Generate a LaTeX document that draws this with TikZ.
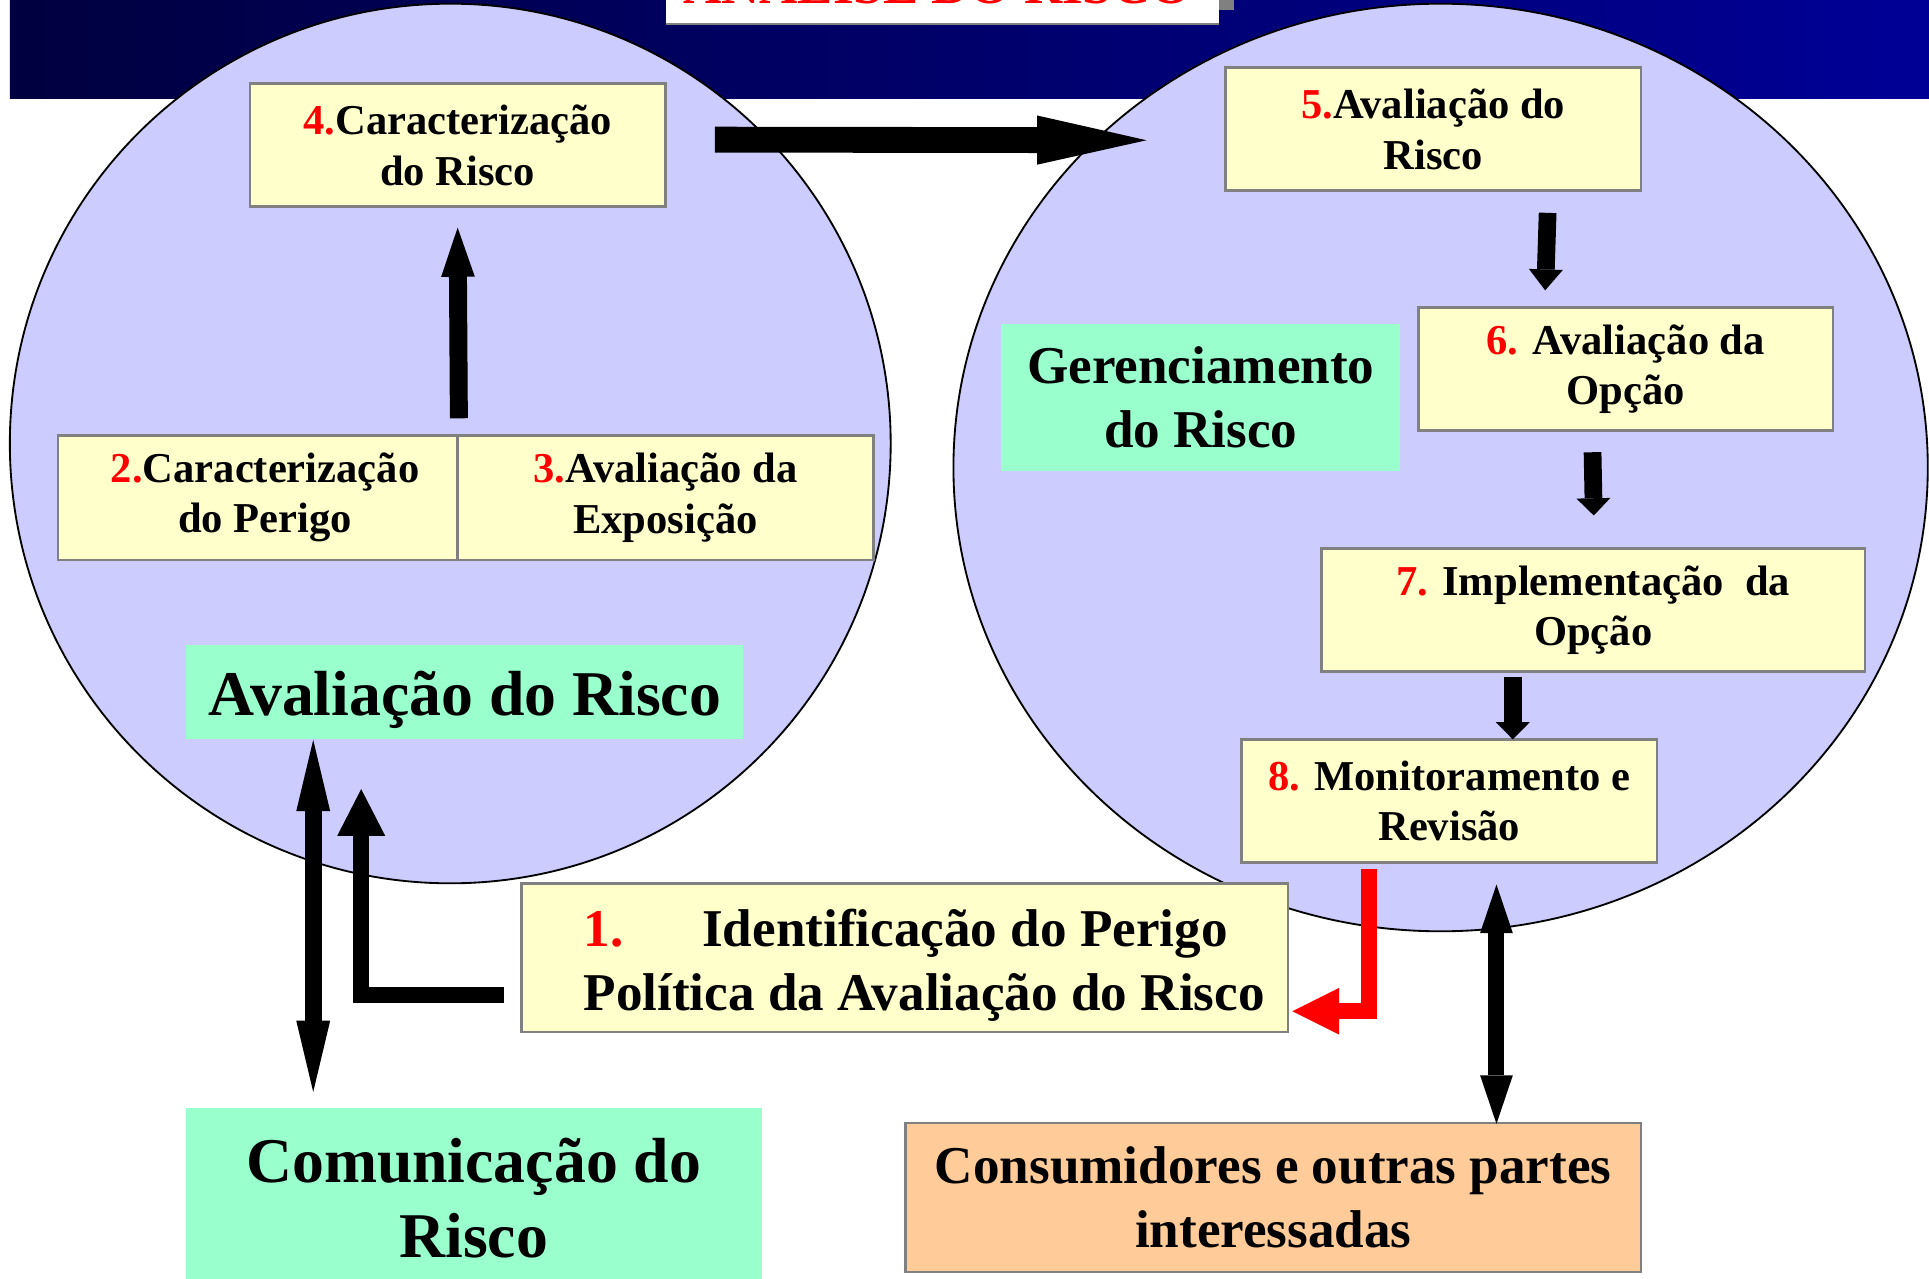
\documentclass[tikz,border=0pt]{standalone}
\usepackage{fontspec}
\setmainfont{Liberation Serif}
\usetikzlibrary{arrows.meta,calc,shapes.geometric}
\definecolor{lav}{HTML}{CCCCFF}
\definecolor{ylw}{HTML}{FFFFCC}
\definecolor{grn}{HTML}{99FFCC}
\definecolor{orng}{HTML}{FFCC99}
\definecolor{bord}{HTML}{808080}
\definecolor{navyL}{RGB}{0,0,64}
\definecolor{navyR}{RGB}{0,0,150}
\newcommand\numr[1]{\textcolor{red}{#1}}
\begin{document}
\begin{tikzpicture}[x=0.5pt,y=-0.5pt,
 box/.style={draw=bord, line width=1pt, fill=ylw, inner sep=0pt, align=center,
   font=\fontsize{17.3}{20.5}\selectfont\bfseries, minimum height=50pt},
 lbl/.style={fill=grn, inner sep=0pt, align=center},
 bigf/.style={font=\fontsize{21.6}{26}\selectfont\bfseries},
 hugef/.style={font=\fontsize{25.9}{30.5}\selectfont\bfseries},
 circ/.style={ellipse, draw=black, line width=0.75pt, fill=lav, inner sep=0pt},
 blkarr/.style={line width=#1, draw=black, line join=miter},
 txt/.style={inner sep=0pt, align=center},
]
\useasboundingbox (0,0) rectangle (1568,1039);
\fill[white] (0,0) rectangle (1568,1039);
% banner
\fill[left color=navyL, right color=navyR] (8,0) rectangle (1568,80);
% title box
\fill[bord] (991,-5) rectangle (1003,8);
\fill[white] (541,-5) rectangle (991,20);
\draw[bord, line width=1pt] (541,19.5) -- (991,19.5);
\node[anchor=base, text=red, font=\fontsize{21.5}{25}\selectfont\bfseries, inner sep=0pt] (title) at (762,3) {ANÁLISE DO RISCO};

% circles
\node[circ, minimum width=358pt, minimum height=357.5pt] (lc) at (366,360.5) {};
\node[circ, minimum width=396pt, minimum height=377pt] (rc) at (1171,380) {};

% boxes
\node[box, minimum width=169pt] (b4) at (372,118) {\numr{4.}Caracterização\\do Risco};
\node[box, minimum width=162.5pt, minimum height=50.5pt] (b2) at (209.5,404.5) {\hspace*{6pt}\numr{2.}Caracterização\\\hspace*{6pt}do Perigo};
\node[box, minimum width=169pt, minimum height=50.5pt] (b3) at (541,404.5) {\numr{3.}Avaliação da\\Exposição};
\node[box, minimum width=169pt] (b5) at (1165,105) {\numr{5.}Avaliação do\\Risco};
\node[box, minimum width=168.5pt] (b6) at (1321.5,300) {\numr{6.} Avaliação da\\Opção};
\node[box, minimum width=221pt] (b7) at (1295,496) {\numr{7.} Implementação\ \ da\\Opção};
\node[box, minimum width=169pt] (b8) at (1178,651) {\numr{8.} Monitoramento e\\Revisão};
\node[box, minimum width=311.5pt, minimum height=60.5pt] (b1) at (735.5,778.5) {};
\node[anchor=west, inner sep=0pt, align=left, bigf] (b1t) at (474,785)
  {\numr{1.}\hspace{32pt}Identificação do Perigo\\Política da Avaliação do Risco};

% labels
\node[lbl, minimum width=226.5pt, minimum height=38.5pt] (ar) at (377.5,562.5) {};
\node[txt, hugef] (art) at (378,569) {Avaliação do Risco};
\node[lbl, bigf, minimum width=162pt, minimum height=60pt] (gr) at (976,323) {Gerenciamento\\do Risco};
\node[lbl, hugef, minimum width=234pt, minimum height=72.5pt] (cr) at (385,973.5) {Comunicação do\\Risco};
\node[box, bigf, fill=orng, minimum width=299pt, minimum height=60.5pt] (cons) at (1035,973.5) {Consumidores e outras partes\\interessadas};

% arrows
\draw[blkarr=7.3pt, -{Triangle[width=13.7pt,length=20pt,line width=0pt]}]
  ($(b2.north east)+(0,-13)$) -- ($(b4.south)+(0,16)$);
\coordinate (t1) at (932,114);
\draw[blkarr=10.5pt, -{Triangle[width=20pt,length=44.5pt,line width=0pt]}]
  ($(b4.east)+(39,-4.5)$) -- (t1);
\draw[blkarr=7.2pt, -{Triangle[width=13.8pt,length=8.5pt,line width=0pt]}]
  ($(b5.south east)+(-77,17)$) -- ($(b6.north west)+(104,-13)$);
\draw[blkarr=7.2pt, -{Triangle[width=13.8pt,length=7pt,line width=0pt]}]
  ($(b6.south west)+(142.5,16.6)$) -- ($(b7.north)+(0.5,-26)$);
\draw[blkarr=7.2pt, -{Triangle[width=13.8pt,length=7pt,line width=0pt]}]
  ($(b7.south west)+(156.7,3)$) -- ($(b8.north west)+(221.7,1)$);
\draw[blkarr=6.5pt, draw=red, -{Triangle[width=19pt,length=19pt,line width=0pt]}]
  ($(b8.south west)+(104.5,4)$) |- ($(b1.east)+(2.5,43.5)$);
\draw[blkarr=6.5pt, {Triangle[width=13.3pt,length=19.7pt,line width=0pt]}-{Triangle[width=13.3pt,length=19.7pt,line width=0pt]}]
  ($(cons.north west)+(481.4,1.5)$) -- ($(b8.south west)+(208.4,17)$);
\draw[blkarr=6.9pt, {Triangle[width=13.8pt,length=29pt,line width=0pt]}-{Triangle[width=13.8pt,length=29pt,line width=0pt]}]
  ($(ar.south west)+(104,0)$) -- ($(cr.north west)+(104,-13)$);
\draw[blkarr=6.5pt, -{Triangle[width=19.5pt,length=19pt,line width=0pt]}]
  ($(b1.west)+(-13,30.5)$) -| ($(ar.south west)+(143,40)$);
\end{tikzpicture}
\end{document}
